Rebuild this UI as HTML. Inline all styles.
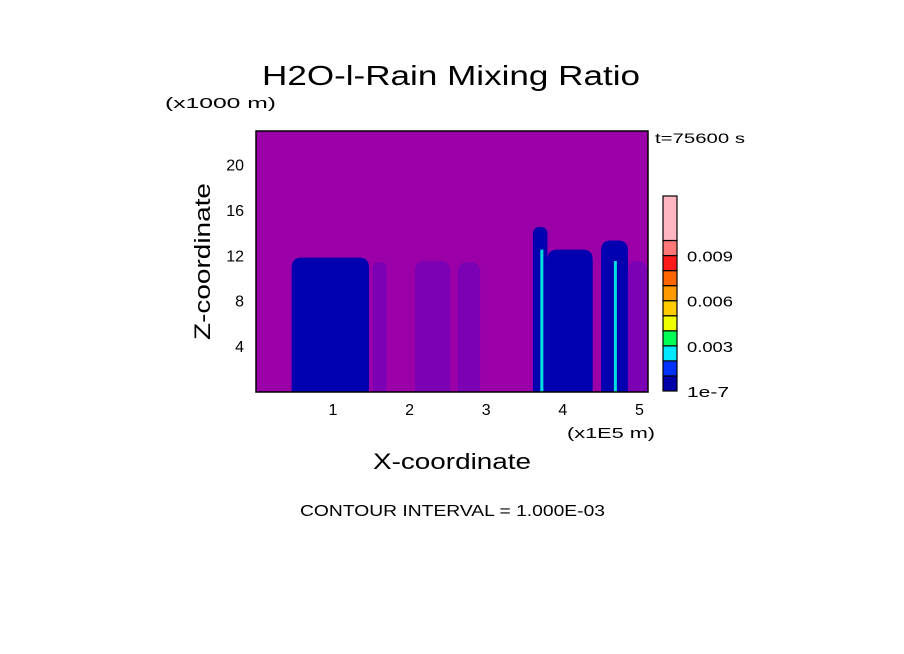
<!DOCTYPE html>
<html><head><meta charset="utf-8"><style>
body{margin:0;background:#fff}
svg{display:block;font-family:"Liberation Sans",sans-serif}
</style></head><body>
<svg width="904" height="654" viewBox="0 0 904 654">
<text x="262" y="85" font-size="28" textLength="378" lengthAdjust="spacingAndGlyphs">H2O-l-Rain Mixing Ratio</text>
<text x="165" y="108" font-size="15" textLength="111" lengthAdjust="spacingAndGlyphs">(x1000 m)</text>
<text x="655" y="143" font-size="14" textLength="90" lengthAdjust="spacingAndGlyphs">t=75600 s</text>
<text transform="translate(210,340) rotate(-90)" font-size="22" textLength="157" lengthAdjust="spacingAndGlyphs">Z-coordinate</text>
<text x="373" y="469" font-size="22" textLength="158" lengthAdjust="spacingAndGlyphs">X-coordinate</text>
<text x="567" y="438" font-size="15" textLength="88" lengthAdjust="spacingAndGlyphs">(x1E5 m)</text>
<text x="300" y="516" font-size="16" textLength="305" lengthAdjust="spacingAndGlyphs">CONTOUR INTERVAL = 1.000E-03</text>
<g id="plot"></g>
<g id="cbar"></g>
</svg>
<script>
const xTicks=[1,2,3,4,5];
const yTicks=[4,8,12,16,20];
const bandStart=[0.46,1.52,2.07,2.63,3.61,3.80,4.50,4.85];
const bandEnd=[1.47,1.70,2.53,2.92,3.80,4.39,4.85,5.10];
const bandTop=[11.8,11.4,11.5,11.4,14.5,12.5,13.3,11.5];
const bandLevel=[1,0,0,0,1,1,1,0];
const coreX=[3.72,4.68];
const coreTop=[12.5,11.5];
const cbLevels=["1e-7","","","0.003","","","0.006","","","0.009",""];
const cbColors=["#0000a8","#0033ff","#00e8ff","#00ff55","#eeff00","#ffcc00","#ff9900","#ff6600","#ff1a1a","#ff7777","#ffb6c1"];
const X0=256,X1=648,Y0=131,Y1=392;
const sx=v=>256.4+v*76.6, sy=v=>391.5-v*11.35;
const NS="http://www.w3.org/2000/svg";
const plot=document.getElementById('plot'), cb=document.getElementById('cbar');
function mk(tag,at,par){const e=document.createElementNS(NS,tag);for(const k in at)e.setAttribute(k,at[k]);par.appendChild(e);return e;}
let bg=mk('rect',{x:X0,y:Y0,width:X1-X0,height:Y1-Y0,fill:'#9b00a8'},plot);


const lvlColor=["#7c00b4","#0000b0"];
bandStart.forEach((s,i)=>{
  const x0=sx(s),x1=sx(bandEnd[i]),yt=sy(bandTop[i]),w=x1-x0;
  const r=Math.min(w/2,10);
  const d=`M${x0},${Y1} L${x0},${yt+r} Q${x0},${yt} ${x0+r},${yt} L${x1-r},${yt} Q${x1},${yt} ${x1},${yt+r} L${x1},${Y1} Z`;
  const p=mk('path',{d:d,fill:lvlColor[bandLevel[i]]},plot);
  
  
});
coreX.forEach((c,i)=>{
  const l=mk('rect',{x:sx(c)-1,y:sy(coreTop[i]),width:3,height:Y1-sy(coreTop[i]),fill:'#00e0e0'},plot);
  
  
});
let fr=mk('rect',{x:X0,y:Y0,width:X1-X0,height:Y1-Y0,fill:'none',stroke:'#000','stroke-width':1.5},plot);


xTicks.forEach(v=>{
  const t=mk('text',{x:sx(v),y:415,'text-anchor':'middle','font-size':16},plot);t.textContent=v;
  
  
});
yTicks.forEach(v=>{
  const t=mk('text',{x:244,y:sy(v)+6,'text-anchor':'end','font-size':16},plot);t.textContent=v;
  
  
});
const segH=15.05, cbBot=391;
cbColors.forEach((c,i)=>{
  const top=i===10?196:cbBot-(i+1)*segH;
  const h=i===10?cbBot-10*segH-196:segH;
  const r=mk('rect',{x:663,y:top,width:14,height:h,fill:c,stroke:'#000','stroke-width':1.2},cb);
  
  
  if(cbLevels[i]){
    const t=mk('text',{x:687,y:cbBot-i*segH+6,'font-size':15,textLength:cbLevels[i].length>4?46:42,lengthAdjust:'spacingAndGlyphs'},cb);t.textContent=cbLevels[i];
    
    
  }
});
</script>
</body></html>
